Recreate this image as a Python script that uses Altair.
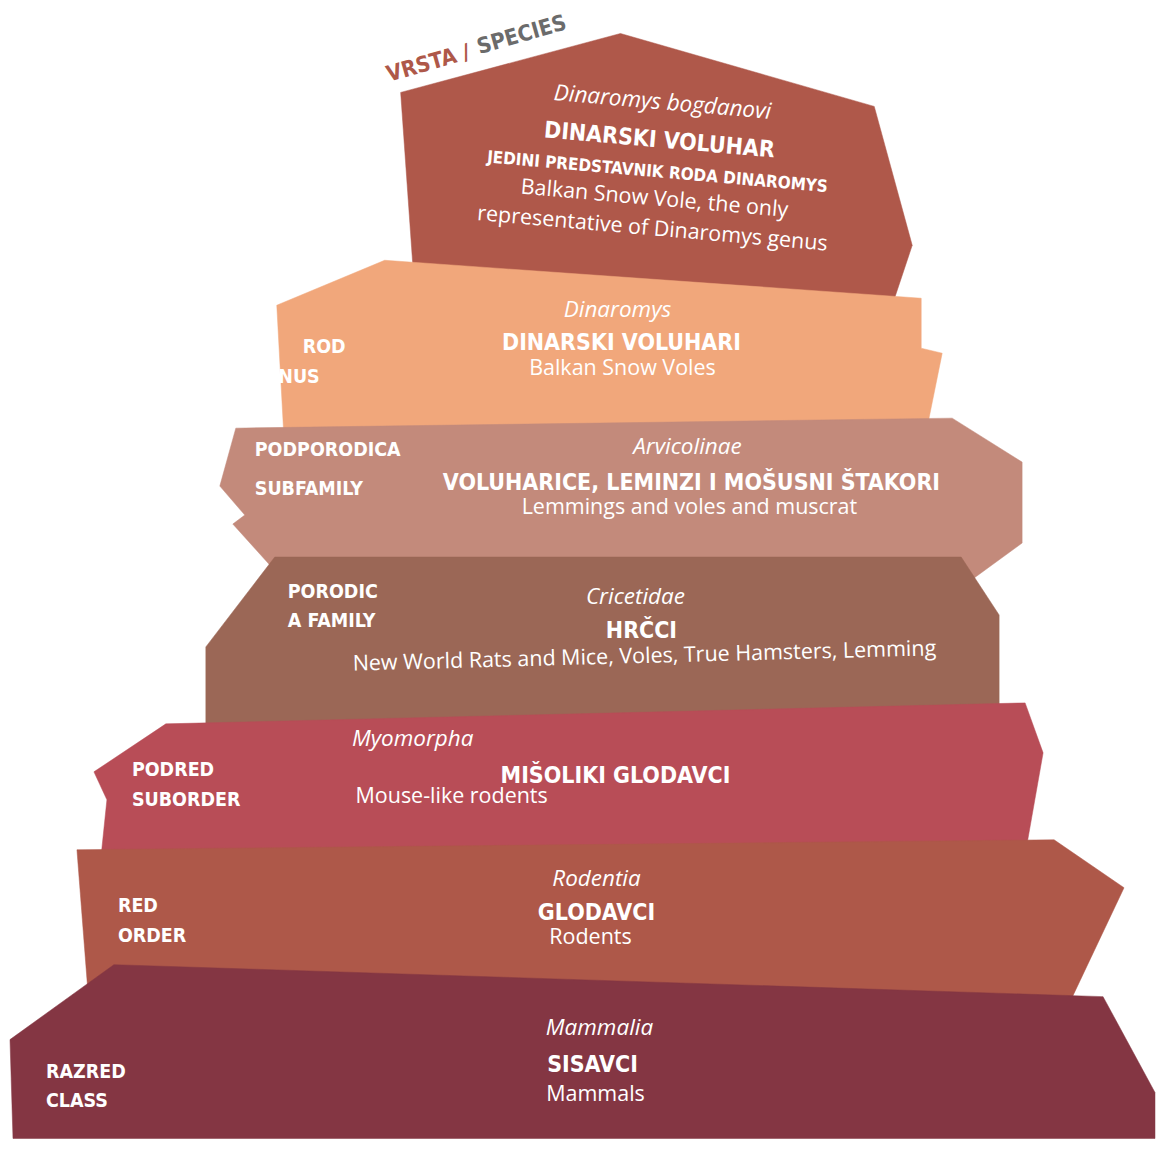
import altair as alt
import pandas as pd

# ---------------- shapes of the taxonomy "stones" (outline vertices) ----------------
species_x = [401, 621, 875, 913, 893, 416]
species_y = [92, 33, 106, 245, 305, 305]
genus_x = [277, 385, 922, 922, 943, 927, 284]
genus_y = [305, 260, 298, 348, 353, 432, 434]
subfamily_x = [236, 953, 1023, 1023, 975, 270, 233, 245, 220]
subfamily_y = [428, 418, 462, 543, 578, 565, 524, 515, 486]
family_x = [275, 962, 1000, 1000, 206, 206]
family_y = [557, 557, 615, 712, 730, 647]
suborder_x = [166, 1026, 1044, 1026, 101, 107, 94]
suborder_y = [724, 703, 753, 855, 858, 800, 772]
order_x = [77, 1055, 1125, 1072, 88]
order_y = [850, 840, 888, 1000, 992]
class_x = [114, 1104, 1156, 1156, 13, 10]
class_y = [965, 997, 1093, 1139, 1139, 1040]

poly_names = ["species", "genus", "subfamily", "family", "suborder", "order", "class"]
poly_xs = [species_x, genus_x, subfamily_x, family_x, suborder_x, order_x, class_x]
poly_ys = [species_y, genus_y, subfamily_y, family_y, suborder_y, order_y, class_y]
poly_colors = ["#AF584A", "#F1A77B", "#C38A7B", "#9B6756", "#B84D57", "#AE5849", "#843643"]

# ---------------- texts ----------------
latin_names = ["Dinaromys bogdanovi", "Dinaromys", "Arvicolinae", "Cricetidae",
               "Myomorpha", "Rodentia", "Mammalia"]
latin_x = [663, 618, 688, 636, 413, 597, 600]
latin_y = [102, 310, 447, 597, 739, 879, 1028]
latin_a = [5, 0, 0, 0, 0, 0, 0]

croatian_names = ["DINARSKI VOLUHAR", "DINARSKI VOLUHARI",
                  "VOLUHARICE, LEMINZI I MOŠUSNI ŠTAKORI", "HRČCI",
                  "MIŠOLIKI GLODAVCI", "GLODAVCI", "SISAVCI"]
croatian_x = [660, 622, 692, 642, 616, 597, 593]
croatian_y = [140, 343, 483, 631, 776, 913, 1065]
croatian_a = [5, 0, 0, 0, 0, 0, 0]

subtitle_hr = ["JEDINI PREDSTAVNIK RODA DINAROMYS"]
subtitle_x = [658]
subtitle_y = [172]
subtitle_a = [5]

english_names = ["Balkan Snow Vole, the only", "representative of Dinaromys genus",
                 "Balkan Snow Voles", "Lemmings and voles and muscrat",
                 "New World Rats and Mice, Voles, True Hamsters, Lemming",
                 "Mouse-like rodents", "Rodents", "Mammals"]
english_x = [655, 653, 623, 690, 645, 452, 591, 596]
english_y = [199, 229, 369, 508, 657, 797, 938, 1095]
english_a = [5, 5, 0, 0, 358.5, 0, 0, 0]

rank_labels = ["ROD", "PODPORODICA", "SUBFAMILY", "PORODIC", "A FAMILY",
               "PODRED", "SUBORDER", "RED", "ORDER", "RAZRED", "CLASS"]
rank_x = [303, 255, 255, 288, 288, 132, 132, 118, 118, 46, 46]
rank_y = [347, 450, 489, 592, 621, 770, 800, 906, 936, 1072, 1101]

genus_label = ["GENUS"]
genus_label_x = [320]
genus_label_y = [377]

header_left = ["VRSTA /"]
header_right = ["SPECIES"]

BOLD = "DejaVu Sans Condensed, Liberation Sans Narrow, sans-serif"
TEXT = "Open Sans, Noto Sans, sans-serif"

X = lambda: alt.X("x:Q", scale=alt.Scale(domain=[8, 1156], nice=False, zero=False), axis=None)
Y = lambda: alt.Y("y:Q", scale=alt.Scale(domain=[8, 1139], nice=False, zero=False, reverse=True), axis=None)

layers = []
for name, xs, ys, col in zip(poly_names, poly_xs, poly_ys, poly_colors):
    df = pd.DataFrame({"x": xs, "y": ys, "i": list(range(len(xs)))})
    layers.append(
        alt.Chart(df).mark_line(filled=True, fill=col, stroke=col, strokeWidth=0.5, interpolate="linear-closed")
        .encode(x=X(), y=Y(), order=alt.Order("i:Q"))
    )


def text_layer(texts, xs, ys, angles, size, font, weight="normal", style="normal",
               align="center", color="white"):
    df = pd.DataFrame({"x": xs, "y": ys, "t": texts, "a": angles})
    return alt.Chart(df).mark_text(
        font=font, fontSize=size, fontWeight=weight, fontStyle=style,
        align=align, baseline="middle", color=color
    ).encode(x=X(), y=Y(), text="t:N", angle=alt.Angle("a:Q", scale=None))


layers.append(text_layer(latin_names, latin_x, latin_y, latin_a, 22.5, TEXT, style="italic"))
layers.append(text_layer(croatian_names, croatian_x, croatian_y, croatian_a, 23, BOLD, weight="bold"))
layers.append(text_layer(subtitle_hr, subtitle_x, subtitle_y, subtitle_a, 17, BOLD, weight="bold"))
layers.append(text_layer(english_names, english_x, english_y, english_a, 21.5, TEXT))
layers.append(text_layer(rank_labels, rank_x, rank_y, [0] * len(rank_labels), 19.5, BOLD,
                         weight="bold", align="left"))
layers.append(text_layer(genus_label, genus_label_x, genus_label_y, [0], 19.5, BOLD,
                         weight="bold", align="right"))
layers.append(text_layer(header_left, [470], [51], [344], 22, BOLD, weight="bold",
                         align="right", color="#AE5849"))
layers.append(text_layer(header_right, [478], [47], [344], 22, BOLD, weight="bold",
                         align="left", color="#6B6B6B"))

chart = alt.layer(*layers).properties(
    width=1148, height=1131, padding=0, background="white"
).configure_view(stroke=None)

chart.save("out.html", embed_options={"renderer": "svg", "actions": False})
